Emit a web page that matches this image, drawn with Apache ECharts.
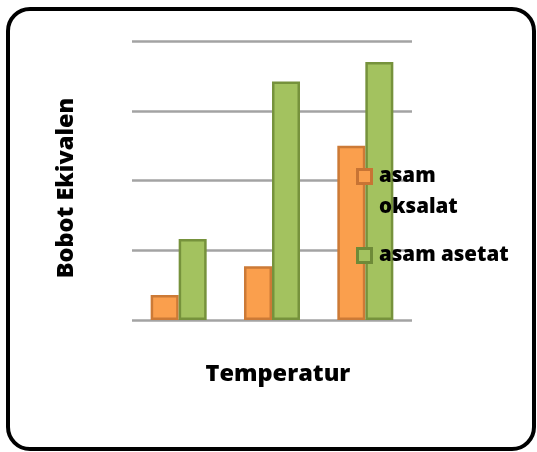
<!DOCTYPE html>
<html>
<head>
<meta charset="utf-8">
<script src="https://cdn.jsdelivr.net/npm/echarts@6/dist/echarts.min.js"></script>
<style>
  html, body { margin: 0; padding: 0; background: #ffffff; }
  #chart { width: 537px; height: 452px; }
</style>
</head>
<body>
<div id="chart"></div>
<script>
// Temperature groups (no labels shown on the axis)
const categories = ['T1', 'T2', 'T3'];
// Equivalent weight per acid
const oksalatValues = [0.36, 0.77, 2.5];
const asetatValues = [1.16, 3.42, 3.7];
const seriesNames = ['asam oksalat', 'asam asetat'];
const legendLines = [['asam', 'oksalat'], ['asam asetat']];

const FONT = '"Open Sans", "Liberation Sans", sans-serif';
const colors = {
  oksalat: { fill: '#fa9f4d', border: '#cc7a36', key: '#c87434' },
  asetat: { fill: '#a3c25f', border: '#76923c', key: '#6e8a38' }
};

const chart = echarts.init(document.getElementById('chart'));

// Legend key: a framed square plus its label lines
function legendItem(top, c, lines) {
  const els = [{
    type: 'rect',
    z: 20,
    shape: { x: 357.5, y: top + 1.5, width: 14, height: 14 },
    style: { fill: c.fill, stroke: c.key, lineWidth: 3 }
  }];
  lines.forEach((line, i) => {
    els.push({
      type: 'text',
      z: 20,
      x: 379,
      y: top + 8 + i * 31,
      style: {
        text: line, fontFamily: FONT, fontWeight: 800, fontSize: 20.5, fill: '#000',
        align: 'left', verticalAlign: 'middle'
      }
    });
  });
  return { type: 'group', z: 20, children: els };
}

chart.setOption({
  backgroundColor: '#ffffff',
  animation: false,
  grid: { left: 132, right: 125, top: 41, bottom: 132 },
  xAxis: {
    type: 'category',
    data: categories,
    axisLine: { show: false },
    axisTick: { show: false },
    axisLabel: { show: false }
  },
  yAxis: {
    type: 'value',
    min: 0,
    max: 4,
    interval: 1,
    axisLine: { show: false },
    axisTick: { show: false },
    axisLabel: { show: false },
    splitLine: { lineStyle: { color: '#a3a3a3', width: 2.5 } }
  },
  series: [
    {
      name: seriesNames[0],
      type: 'bar',
      data: oksalatValues,
      barWidth: 28,
      barGap: '0%',
      itemStyle: { color: colors.oksalat.fill, borderColor: colors.oksalat.border, borderWidth: 2.5 }
    },
    {
      name: seriesNames[1],
      type: 'bar',
      data: asetatValues,
      barWidth: 28,
      itemStyle: { color: colors.asetat.fill, borderColor: colors.asetat.border, borderWidth: 2.5 }
    }
  ],
  graphic: [
    {
      type: 'rect',
      shape: { x: 8, y: 9, width: 526, height: 440, r: 22 },
      style: { fill: null, stroke: '#000', lineWidth: 4 },
      z: 100
    },
    legendItem(168, colors.oksalat, legendLines[0]),
    legendItem(247, colors.asetat, legendLines[1]),
    {
      type: 'text',
      x: 278,
      y: 374,
      style: {
        text: 'Temperatur',
        fontFamily: FONT, fontWeight: 800, fontSize: 23.5, fill: '#000',
        align: 'center', verticalAlign: 'middle'
      }
    },
    {
      type: 'text',
      x: 66,
      y: 188,
      rotation: Math.PI / 2,
      style: {
        text: 'Bobot Ekivalen',
        fontFamily: FONT, fontWeight: 800, fontSize: 23.5, fill: '#000',
        align: 'center', verticalAlign: 'middle'
      }
    }
  ]
});
</script>
</body>
</html>
